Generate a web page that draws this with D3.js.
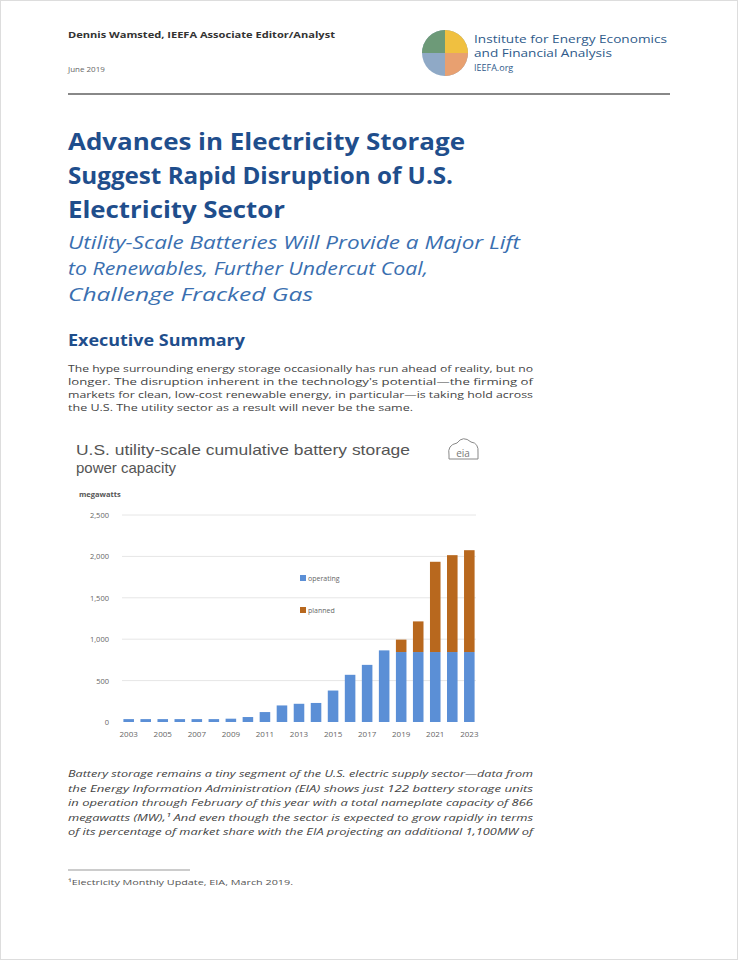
<!DOCTYPE html>
<html><head><meta charset="utf-8">
<script src="https://cdn.jsdelivr.net/npm/d3@7"></script>
<style>body{margin:0;background:#fff}svg{display:block}</style>
</head><body>
<svg id="c" width="738" height="960"></svg>
<script>
const years = d3.range(2003, 2024).map(String);
const operating = [35,35,35,35,35,35,40,60,120,200,220,230,380,570,690,865,845,845,845,845,845];
const planned   = [0,0,0,0,0,0,0,0,0,0,0,0,0,0,0,0,150,370,1090,1170,1230];
const yTicks = [0,500,1000,1500,2000,2500];
const xLabels = ["2003","2005","2007","2009","2011","2013","2015","2017","2019","2021","2023"];
const seriesNames = ["operating","planned"];
const colors = ["#5b8fd6","#b8681e"];

const svg = d3.select("#c");
svg.append("rect").attr("x",0).attr("y",0).attr("width",738).attr("height",960).attr("fill","#fff");
svg.append("rect").attr("x",0.5).attr("y",0.5).attr("width",737).attr("height",959).attr("fill","none").attr("stroke","#ddd");
const F = "'Open Sans', 'Liberation Sans', sans-serif";
function t(x,y,s,o,w){const e=svg.append("text").attr("x",x).attr("y",y).text(s).attr("font-family",F);
 for(const k in o) e.attr(k,o[k]);
 if(w) e.attr("textLength",w).attr("lengthAdjust","spacingAndGlyphs");
 return e;}
t(68,38,"Dennis Wamsted, IEEFA Associate Editor/Analyst",{"font-size":9,"font-weight":"bold",fill:"#333"},267);
t(68,72,"June 2019",{"font-size":8,fill:"#666"});
const lg=svg.append("g").attr("transform","translate(445,53)");
lg.append("circle").attr("r",23).attr("fill","#8fa9c6");
lg.append("path").attr("d","M0,-23 A23,23 0 0,1 23,0 L0,0Z").attr("fill","#f0c040");
lg.append("path").attr("d","M23,0 A23,23 0 0,1 0,23 L0,0Z").attr("fill","#e8a070");
lg.append("path").attr("d","M-23,0 A23,23 0 0,1 0,-23 L0,0Z").attr("fill","#6d9a78");
t(474,43,"Institute for Energy Economics",{"font-size":10.5,fill:"#2e5a8a"},193);
t(474,57,"and Financial Analysis",{"font-size":10.5,fill:"#2e5a8a"},138);
t(474,71,"IEEFA.org",{"font-size":9,fill:"#2e5a8a"});
svg.append("line").attr("x1",68).attr("x2",670).attr("y1",94).attr("y2",94).attr("stroke","#888").attr("stroke-width",2);
[["Advances in Electricity Storage",397],["Suggest Rapid Disruption of U.S.",385],["Electricity Sector",217]].forEach((s,i)=>
 t(68,150+i*34,s[0],{"font-size":24,"font-weight":"bold",fill:"#1f4e8c"},s[1]));
[["Utility-Scale Batteries Will Provide a Major Lift",452],["to Renewables, Further Undercut Coal,",360],["Challenge Fracked Gas",245]].forEach((s,i)=>
 t(68,249+i*26,s[0],{"font-size":18,"font-style":"italic",fill:"#3a6fb0"},s[1]));
t(68,346,"Executive Summary",{"font-size":16,"font-weight":"bold",fill:"#1f4e8c"},177);
[["The hype surrounding energy storage occasionally has run ahead of reality, but no",465],["longer. The disruption inherent in the technology's potential—the firming of",465],["markets for clean, low-cost renewable energy, in particular—is taking hold across",465],["the U.S. The utility sector as a result will never be the same.",345]].forEach((s,i)=>
 t(68,372+i*13,s[0],{"font-size":9,fill:"#444"},s[1]));
t(76,455,"U.S. utility-scale cumulative battery storage",{"font-size":15,fill:"#555","font-family":"'Liberation Sans', Arial, sans-serif"},334);
t(76,473,"power capacity",{"font-size":15,fill:"#555","font-family":"'Liberation Sans', Arial, sans-serif"});
t(79,497,"megawatts",{"font-size":7.5,"font-weight":"bold",fill:"#555"});
const eg=svg.append("g").attr("transform","translate(463,451)");
eg.append("path").attr("d","M-14,4 Q-16,-6 -6,-8 Q0,-16 8,-9 Q16,-8 15,2 L15,8 L-14,8Z").attr("fill","none").attr("stroke","#888");
eg.append("text").attr("x",0).attr("y",6).attr("text-anchor","middle").attr("font-size",10).attr("fill","#777").attr("font-family",F).text("eia");

const x=d3.scaleBand().domain(years).range([120,478]).paddingInner(0.38).paddingOuter(0.2);
const y=d3.scaleLinear().domain([0,2500]).range([722,515]);
const ya=svg.append("g").attr("transform","translate(112,0)").call(d3.axisLeft(y).tickValues(yTicks).tickSize(0).tickFormat(d3.format(",")));
ya.select(".domain").remove();
ya.selectAll("text").attr("font-size",7.5).attr("fill","#666").attr("font-family",F);
svg.append("g").selectAll("line").data(yTicks.slice(1)).join("line").attr("x1",122).attr("x2",476)
 .attr("y1",d=>y(d)).attr("y2",d=>y(d)).attr("stroke","#e6e6e6");
const stack=d3.stack().keys([0,1]).value((d,k)=>d[k])(years.map((yr,i)=>[operating[i],planned[i]]));
stack.forEach((s,k)=>svg.append("g").selectAll("rect").data(s).join("rect")
 .attr("x",(d,i)=>x(years[i])).attr("width",x.bandwidth())
 .attr("y",d=>y(d[1])).attr("height",d=>y(d[0])-y(d[1])).attr("fill",colors[k]));
const xa=svg.append("g").attr("transform","translate(0,724)").call(d3.axisBottom(x).tickValues(xLabels).tickSize(0));
xa.select(".domain").remove();
xa.selectAll("text").attr("font-size",8).attr("fill","#666").attr("font-family",F).attr("dy","1.3em");
seriesNames.forEach((n,i)=>{
 svg.append("rect").attr("x",300).attr("y",575+i*32).attr("width",6).attr("height",6).attr("fill",colors[i]);
 t(308,581+i*32,n,{"font-size":7,fill:"#666"});
});
[["Battery storage remains a tiny segment of the U.S. electric supply sector—data from",465],["the Energy Information Administration (EIA) shows just 122 battery storage units",465],["in operation through February of this year with a total nameplate capacity of 866",465],["megawatts (MW),¹ And even though the sector is expected to grow rapidly in terms",465],["of its percentage of market share with the EIA projecting an additional 1,100MW of",465]].forEach((s,i)=>
 t(68,777+i*14.5,s[0],{"font-size":9,"font-style":"italic",fill:"#444"},s[1]));
svg.append("line").attr("x1",68).attr("x2",190).attr("y1",870).attr("y2",870).attr("stroke","#999");
t(68,885,"¹Electricity Monthly Update, EIA, March 2019.",{"font-size":8,fill:"#555"},225);
</script></body></html>
